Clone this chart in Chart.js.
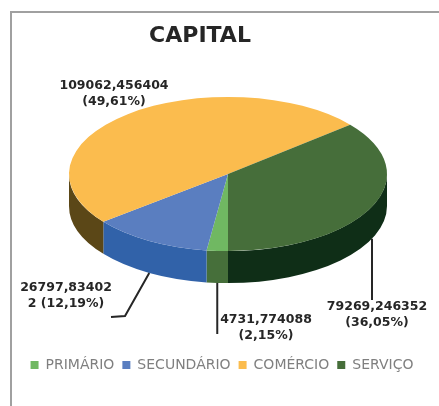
<!DOCTYPE html>
<html>
<head>
<meta charset="utf-8">
<script src="https://cdn.jsdelivr.net/npm/chart.js@4"></script>
<style>
  html, body { margin: 0; padding: 0; background: #fff; }
  #wrap { width: 439px; height: 406px; }
</style>
</head>
<body>
<div id="wrap"><canvas id="capitalChart"></canvas></div>
<script>
// Chart data
const chartTitle = 'CAPITAL';
const categories = ['PRIMÁRIO', 'SECUNDÁRIO', 'COMÉRCIO', 'SERVIÇO'];
const capitalValues = [4731.774088, 26797.834022, 109062.456404, 79269.246352];
const topColors = ['#70B862', '#5A7EC0', '#FBBC4E', '#466E3A'];
const sideColors = ['#466F3A', '#3162A9', '#5B4717', '#0F2E17'];

// 3D look
const pieX = 228, pieY = 174, tilt = 0.485, depth = 32;

// where Excel put each data label (text centre, first line), wrap width and its leader
const labelLayout = [
    { x: 266, y: 320, maxW: 118, leader: [[null, 334]] },
    { x: 66, y: 288, maxW: 95, leader: [[125, 316], [111, 317]] },
    { x: 114, y: 86, maxW: 118, leader: null },
    { x: 377, y: 307, maxW: 118, leader: [[null, 300]] }
];

const total = capitalValues.reduce((s, v) => s + v, 0);

function labelText(v) {
    const pct = (v / total * 100).toFixed(2).replace('.', ',');
    return String(v).replace('.', ',') + ' (' + pct + '%)';
}

// wrap like Excel does, breaking long numbers by character
function wrapText(ctx, text, maxW) {
    const lines = [];
    let cur = '';
    text.split(' ').forEach(word => {
        const tryLine = cur ? cur + ' ' + word : word;
        if (ctx.measureText(tryLine).width <= maxW) { cur = tryLine; return; }
        if (cur) lines.push(cur);
        let piece = '';
        for (const ch of word) {
            if (piece && ctx.measureText(piece + ch).width > maxW) { lines.push(piece); piece = ch; }
            else piece += ch;
        }
        cur = piece;
    });
    if (cur) lines.push(cur);
    return lines;
}

const pie3d = {
    id: 'pie3d',
    beforeDraw(chart) {
        const ctx = chart.ctx;
        ctx.save();
        ctx.strokeStyle = '#A0A0A0';
        ctx.lineWidth = 2;
        ctx.strokeRect(11, 12, 440, 420);
        ctx.restore();
    },
    beforeDatasetsDraw(chart) {
        const ctx = chart.ctx;
        const arcs = chart.getDatasetMeta(0).data;
        // outer walls, only the front half shows
        arcs.forEach((arc, i) => {
            const r = arc.outerRadius;
            for (let k = -1; k <= 2; k++) {
                const lo = Math.max(arc.startAngle, 2 * Math.PI * k);
                const hi = Math.min(arc.endAngle, 2 * Math.PI * k + Math.PI);
                if (hi <= lo) continue;
                ctx.beginPath();
                ctx.ellipse(pieX, pieY, r, r * tilt, 0, lo, hi);
                ctx.ellipse(pieX, pieY + depth, r, r * tilt, 0, hi, lo, true);
                ctx.closePath();
                ctx.fillStyle = sideColors[i];
                ctx.fill();
            }
        });
        // squash the top face
        ctx.save();
        ctx.translate(pieX, pieY);
        ctx.scale(1, tilt);
        ctx.translate(-arcs[0].x, -arcs[0].y);
    },
    afterDatasetsDraw(chart) {
        const ctx = chart.ctx;
        ctx.restore();
        const arcs = chart.getDatasetMeta(0).data;

        ctx.save();
        ctx.font = 'bold 12.5px "DejaVu Sans"';
        ctx.fillStyle = '#262626';
        ctx.strokeStyle = '#262626';
        ctx.lineWidth = 2;
        ctx.textAlign = 'center';
        ctx.textBaseline = 'middle';
        arcs.forEach((arc, i) => {
            const lay = labelLayout[i];
            const mid = (arc.startAngle + arc.endAngle) / 2;
            const r = arc.outerRadius;
            if (lay.leader) {
                const ax = pieX + r * Math.cos(mid);
                const ay = pieY + r * tilt * Math.sin(mid) + depth;
                ctx.beginPath();
                ctx.moveTo(ax, ay);
                lay.leader.forEach(p => ctx.lineTo(p[0] === null ? ax : p[0], p[1]));
                ctx.stroke();
            }
            const lines = wrapText(ctx, labelText(capitalValues[i]), lay.maxW);
            lines.forEach((ln, j) => ctx.fillText(ln, lay.x, lay.y + j * 15.5));
        });

        ctx.font = 'bold 22px "DejaVu Sans"';
        ctx.fillText(chartTitle, 200, 36);
        ctx.restore();
    }
};

new Chart(document.getElementById('capitalChart'), {
    type: 'pie',
    data: {
        labels: categories,
        datasets: [{
            data: capitalValues,
            backgroundColor: topColors,
            borderWidth: 0,
            radius: 159
        }]
    },
    options: {
        responsive: true,
        maintainAspectRatio: false,
        animation: false,
        rotation: 180,
        layout: { padding: { left: 17, right: 12, top: 60, bottom: 24 } },
        plugins: {
            title: { display: false },
            tooltip: { enabled: false },
            legend: {
                position: 'bottom',
                labels: {
                    boxWidth: 8,
                    boxHeight: 8,
                    padding: 8,
                    color: '#7F7F7F',
                    font: { family: 'DejaVu Sans', size: 14 }
                }
            }
        }
    },
    plugins: [pie3d]
});
</script>
</body>
</html>
